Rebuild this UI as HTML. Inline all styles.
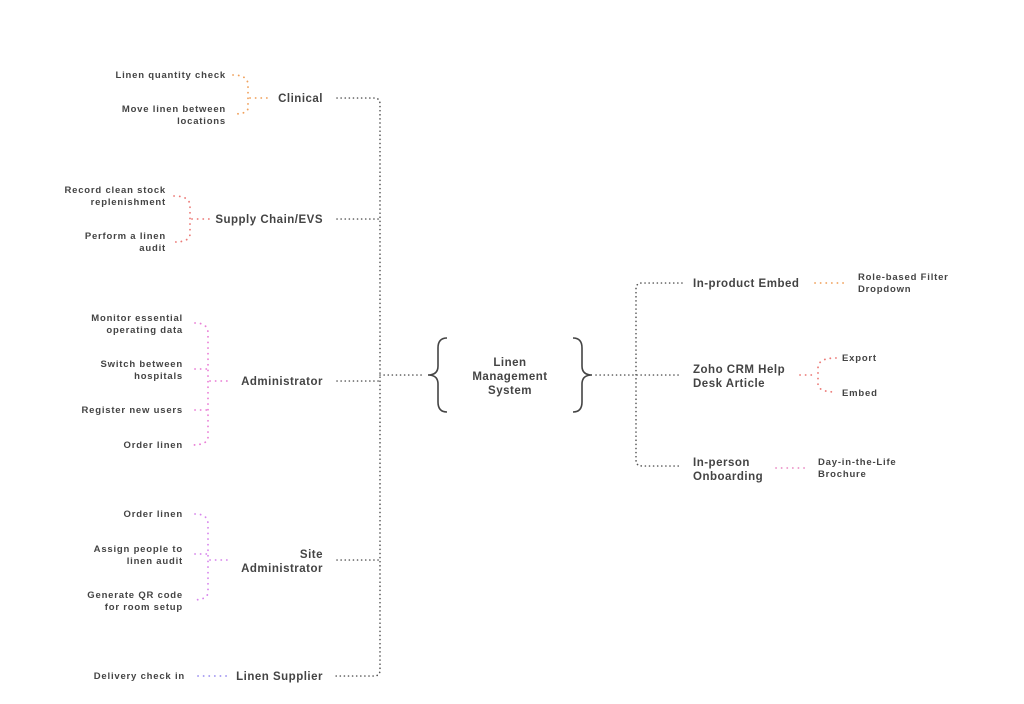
<!DOCTYPE html>
<html><head><meta charset="utf-8"><style>
html,body{margin:0;padding:0;background:#fff;}
svg{display:block;}
text{font-family:"Liberation Sans","DejaVu Sans",sans-serif;font-weight:bold;fill:#444;}
.m{font-size:11.5px;letter-spacing:0.5px;}
.s{font-size:9.5px;letter-spacing:0.8px;}
.g{fill:none;stroke:#555;stroke-width:1.6;stroke-dasharray:0.1 4;stroke-linecap:round;}
.c{fill:none;stroke-width:1.8;stroke-dasharray:0.1 5.5;stroke-linecap:round;}
</style></head><body>
<svg width="1024" height="704" viewBox="0 0 1024 704" xmlns="http://www.w3.org/2000/svg">
<path class="g" d="M337 98 H374 Q380 98 380 104 V670 Q380 676 374 676 H335"/>
<path class="g" d="M337 219 H380 M337 381 H380 M337 560 H380 M380 375 H425"/>
<path d="M447 338 Q438 338 438 348 V366 Q438 375 428 375 Q438 375 438 384 V402 Q438 412 447 412" fill="none" stroke="#444" stroke-width="1.6"/>
<path d="M573 338 Q582 338 582 348 V366 Q582 375 592 375 Q582 375 582 384 V402 Q582 412 573 412" fill="none" stroke="#444" stroke-width="1.6"/>
<text class="m" x="510" y="366" text-anchor="middle">Linen</text>
<text class="m" x="510" y="380" text-anchor="middle">Management</text>
<text class="m" x="510" y="394" text-anchor="middle">System</text>
<path class="g" d="M596 375 H680"/>
<path class="g" d="M682 283 H642 Q636 283 636 289 V460 Q636 466 642 466 H682"/>

<text class="m" x="323" y="102" text-anchor="end">Clinical</text>
<path class="c" stroke="#f0a15c" d="M233 75 Q248 75 248 85 V108 Q248 114 233 114 M250 98 H270"/>
<text class="s" x="226" y="78" text-anchor="end">Linen quantity check</text>
<text class="s" x="226" y="112" text-anchor="end">Move linen between</text>
<text class="s" x="226" y="124" text-anchor="end">locations</text>

<text class="m" x="323" y="223" text-anchor="end">Supply Chain/EVS</text>
<path class="c" stroke="#ec7b78" d="M174 196 Q190 196 190 206 V234 Q190 242 174 242 M192 219 H210"/>
<text class="s" x="166" y="193" text-anchor="end">Record clean stock</text>
<text class="s" x="166" y="205" text-anchor="end">replenishment</text>
<text class="s" x="166" y="239" text-anchor="end">Perform a linen</text>
<text class="s" x="166" y="251" text-anchor="end">audit</text>

<text class="m" x="323" y="385" text-anchor="end">Administrator</text>
<path class="c" stroke="#ea7fd6" d="M195 323 Q208 323 208 333 V437 Q208 445 192 445 M195 369 H208 M195 410 H208 M210 381 H228"/>
<text class="s" x="183" y="321" text-anchor="end">Monitor essential</text>
<text class="s" x="183" y="333" text-anchor="end">operating data</text>
<text class="s" x="183" y="367" text-anchor="end">Switch between</text>
<text class="s" x="183" y="379" text-anchor="end">hospitals</text>
<text class="s" x="183" y="413" text-anchor="end">Register new users</text>
<text class="s" x="183" y="448" text-anchor="end">Order linen</text>

<text class="m" x="323" y="558" text-anchor="end">Site</text>
<text class="m" x="323" y="572" text-anchor="end">Administrator</text>
<path class="c" stroke="#d786ec" d="M195 514 Q208 514 208 524 V592 Q208 600 192 600 M195 554 H208 M210 560 H228"/>
<text class="s" x="183" y="517" text-anchor="end">Order linen</text>
<text class="s" x="183" y="552" text-anchor="end">Assign people to</text>
<text class="s" x="183" y="564" text-anchor="end">linen audit</text>
<text class="s" x="183" y="598" text-anchor="end">Generate QR code</text>
<text class="s" x="183" y="610" text-anchor="end">for room setup</text>

<text class="m" x="323" y="680" text-anchor="end">Linen Supplier</text>
<path class="c" stroke="#9b8ff0" d="M198 676 H228"/>
<text class="s" x="185" y="679" text-anchor="end">Delivery check in</text>

<text class="m" x="693" y="287">In-product Embed</text>
<path class="c" stroke="#f0a15c" d="M815 283 H846"/>
<text class="s" x="858" y="280">Role-based Filter</text>
<text class="s" x="858" y="292">Dropdown</text>

<text class="m" x="693" y="373">Zoho CRM Help</text>
<text class="m" x="693" y="387">Desk Article</text>
<path class="c" stroke="#ec7b78" d="M800 375 H816 M836 358 Q818 358 818 368 V384 Q818 392 836 392"/>
<text class="s" x="842" y="361">Export</text>
<text class="s" x="842" y="396">Embed</text>

<text class="m" x="693" y="466">In-person</text>
<text class="m" x="693" y="480">Onboarding</text>
<path class="c" stroke="#ea8cc4" d="M776 468 H808"/>
<text class="s" x="818" y="465">Day-in-the-Life</text>
<text class="s" x="818" y="477">Brochure</text>
</svg>
</body></html>
